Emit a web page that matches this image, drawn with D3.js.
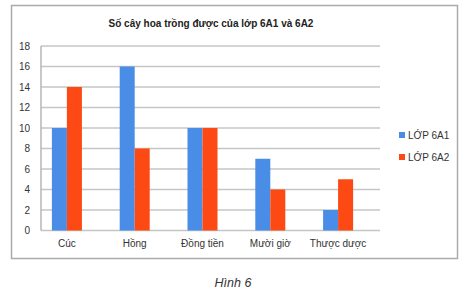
<!DOCTYPE html>
<html>
<head>
<meta charset="utf-8">
<script src="https://cdn.jsdelivr.net/npm/d3@7"></script>
<style>
  body { margin: 0; background: #fff; }
  text { font-family: "Liberation Sans", Arial, sans-serif; }
</style>
</head>
<body>
<svg width="466" height="302"></svg>
<script>
// data
const categories = ['Cúc', 'Hồng', 'Đồng tiền', 'Mười giờ', 'Thược dược'];
const series = ['LỚP 6A1', 'LỚP 6A2'];
const lop6A1 = [10, 16, 10, 7, 2];
const lop6A2 = [14, 8, 10, 4, 5];
const yTicks = [0, 2, 4, 6, 8, 10, 12, 14, 16, 18];
const colors = ['#4a8de6', '#fd4913'];

const rows = categories.map((c, i) => ({cat: c, values: [lop6A1[i], lop6A2[i]]}));

const svg = d3.select('svg');

// outer frame
svg.append('rect')
  .attr('x', 11.5).attr('y', 5.5)
  .attr('width', 446).attr('height', 253)
  .attr('fill', '#fff')
  .attr('stroke', '#a9aca9')
  .attr('stroke-width', 1.5);

const plotLeft = 41, plotRight = 380, plotTop = 46, plotBottom = 230.5;

const y = d3.scaleLinear().domain([0, 18]).range([plotBottom, plotTop]);
// groups are centered a little left of the gridded area in the original
const x0 = d3.scaleBand().domain(categories).range([33, 372]);
const x1 = d3.scaleBand().domain(series).range([-15, 15]);

// gridlines
svg.append('g')
  .selectAll('line')
  .data(yTicks)
  .enter()
  .append('line')
  .attr('x1', plotLeft).attr('x2', plotRight)
  .attr('y1', d => y(d)).attr('y2', d => y(d))
  .attr('stroke', '#c3c7c3')
  .attr('stroke-width', 1.5);

svg.append('line')
  .attr('x1', plotLeft).attr('x2', plotLeft)
  .attr('y1', y(18)).attr('y2', y(0))
  .attr('stroke', '#b3b7b3')
  .attr('stroke-width', 1.5);

// y tick labels
svg.append('g')
  .selectAll('text')
  .data(yTicks)
  .enter()
  .append('text')
  .attr('x', 30)
  .attr('y', d => y(d))
  .attr('dy', '0.35em')
  .attr('text-anchor', 'end')
  .attr('font-size', 10)
  .attr('fill', '#333')
  .text(d => d);

// bars
const groups = svg.append('g')
  .selectAll('g')
  .data(rows)
  .enter()
  .append('g')
  .attr('transform', d => `translate(${x0(d.cat) + x0.bandwidth() / 2},0)`);

groups.selectAll('rect')
  .data(d => d.values.map((v, i) => ({s: series[i], v: v, i: i})))
  .enter()
  .append('rect')
  .attr('x', d => x1(d.s))
  .attr('width', x1.bandwidth())
  .attr('y', d => y(d.v))
  .attr('height', d => y(0) - y(d.v))
  .attr('fill', d => colors[d.i]);

// category labels
svg.append('g')
  .selectAll('text')
  .data(categories)
  .enter()
  .append('text')
  .attr('x', d => x0(d) + x0.bandwidth() / 2)
  .attr('y', 247)
  .attr('text-anchor', 'middle')
  .attr('font-size', 10)
  .attr('fill', '#333')
  .text(d => d);

// title
svg.append('text')
  .attr('x', 211)
  .attr('y', 26.5)
  .attr('text-anchor', 'middle')
  .attr('font-size', 10)
  .attr('font-weight', 'bold')
  .attr('fill', '#222')
  .text('Số cây hoa trồng được của lớp 6A1 và 6A2');

// legend
const legend = svg.append('g')
  .selectAll('g')
  .data(series)
  .enter()
  .append('g')
  .attr('transform', (d, i) => `translate(399,${135 + i * 22})`);

legend.append('rect')
  .attr('x', 0).attr('y', -3)
  .attr('width', 6).attr('height', 6)
  .attr('fill', (d, i) => colors[i]);

legend.append('text')
  .attr('x', 9)
  .attr('dy', '0.35em')
  .attr('font-size', 10)
  .attr('fill', '#333')
  .text(d => d);

// caption
svg.append('text')
  .attr('x', 233)
  .attr('y', 287)
  .attr('text-anchor', 'middle')
  .attr('font-size', 12.5)
  .attr('font-style', 'italic')
  .attr('fill', '#333')
  .text('Hình 6');
</script>
</body>
</html>
